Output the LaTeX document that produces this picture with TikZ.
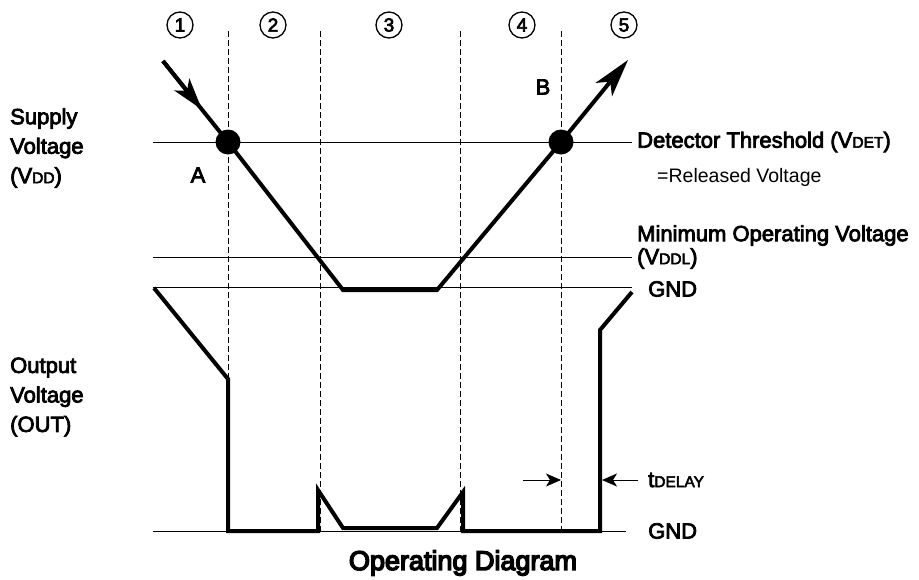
\documentclass[tikz,border=0pt]{standalone}
\usepackage{fontspec}
\setmainfont{Liberation Sans}
\newfontfamily\lblfont{Liberation Sans}[FakeBold=3.5]
\newfontfamily\titlefont{Liberation Sans}[FakeBold=5.5]
\usetikzlibrary{arrows.meta,positioning,calc}
\newcommand{\lsub}[1]{{\fontsize{15.5}{15.5}\selectfont #1}}
\tikzset{
  trace/.style={line width=4pt, line join=miter},
  level/.style={line width=1pt},
  phase/.style={line width=1pt, dash pattern=on 6pt off 3pt},
  lbl/.style={font=\lblfont\fontsize{22}{29.5}\selectfont, inner sep=0pt, align=left},
  phasenum/.style={circle, draw, line width=1.3pt, minimum size=26pt, inner sep=0pt, font=\lblfont\fontsize{19}{19}\selectfont},
  dot/.style={circle, fill=black, minimum size=25pt, inner sep=0pt},
  bigtip/.style={-{Stealth[length=38pt, width=21pt, inset=10pt]}},
  midtip/.style={-{Stealth[length=32pt, width=19pt, inset=8pt]}},
  smalltip/.style={-{Stealth[length=15pt, width=13pt, inset=4pt]}, line width=1pt}
}
\begin{document}
\begin{tikzpicture}[x=1pt, y=-1pt]
	\useasboundingbox (0,0) rectangle (919,579);

	% phases
	\foreach \xx in {228, 320, 460, 561}
		\draw[phase] (\xx,31) -- (\xx,531);
	\foreach \num/\xx in {1/180, 2/273, 3/389, 4/522, 5/624}
		\node[phasenum] (ph\num) at (\xx,25) {\num};

	% level lines and their labels
	\node[lbl, anchor=west] (vdet) at (637,142) {Detector Threshold (V\lsub{DET})};
	\node[lbl, anchor=west, font=\fontsize{19.5}{19.5}\selectfont] (rel) at (657,177) {=Released Voltage};
	\node[lbl, anchor=west, font=\lblfont\fontsize{22}{23}\selectfont] (vddl) at (637,247) {Minimum Operating Voltage\\(V\lsub{DDL})};
	\node[lbl, anchor=west] (gndtop) at (648,289) {GND};
	\node[lbl, anchor=west] (gndbot) at (648,531) {GND};
	\draw[level] (153,142) -- (632,142);
	\draw[level] (153,257) -- (632,257);
	\draw[level] (153,287) -- (632,287);
	\draw[level] (153,531) -- (626,531);

	% axis labels
	\node[lbl, anchor=west] (vdd) at (10,148) {Supply\\Voltage\\(V\lsub{DD})};
	\node[lbl, anchor=west] (out) at (10,397) {Output\\Voltage\\(OUT)};
	\node[font=\titlefont\fontsize{27}{27}\selectfont, inner sep=0pt] (title) at (463,563) {Operating Diagram};

	% supply voltage
	\node[dot] (ptA) at (228,142) {};
	\node[dot] (ptB) at (561,142) {};
	\node[lbl] (labA) at (198,175) {A};
	\node[lbl] (labB) at (543,87) {B};
	\coordinate (s0) at (163,61);
	\coordinate (s1) at (343,290);
	\coordinate (s2) at (437,290);
	\coordinate (s3) at (628,60);
	\coordinate (smid) at ($(s0)!0.6!(ptA.center)$);
	\draw[trace, bigtip] (s0) -- (ptA.center) -- (s1) -- (s2) -- (ptB.center) -- (s3);
	\draw[trace, midtip] (s0) -- (smid);

	% output voltage
	\draw[trace] (154,288) -- (228,379) -- (228,531) -- (318,531) -- (318,490) -- (343,528)
		-- (437,528) -- (463,492) -- (463,531) -- (600,531) -- (600,330) -- (632,292);

	% delay
	\coordinate (dl0) at (523,480);
	\coordinate (dl1) at (561,480);
	\coordinate (dr0) at (638,480);
	\coordinate (dr1) at (602,480);
	\draw[smalltip] (dl0) -- (dl1);
	\draw[smalltip] (dr0) -- (dr1);
	\node[lbl, anchor=west] (tdel) at (648,480) {t\lsub{DELAY}};
\end{tikzpicture}
\end{document}
